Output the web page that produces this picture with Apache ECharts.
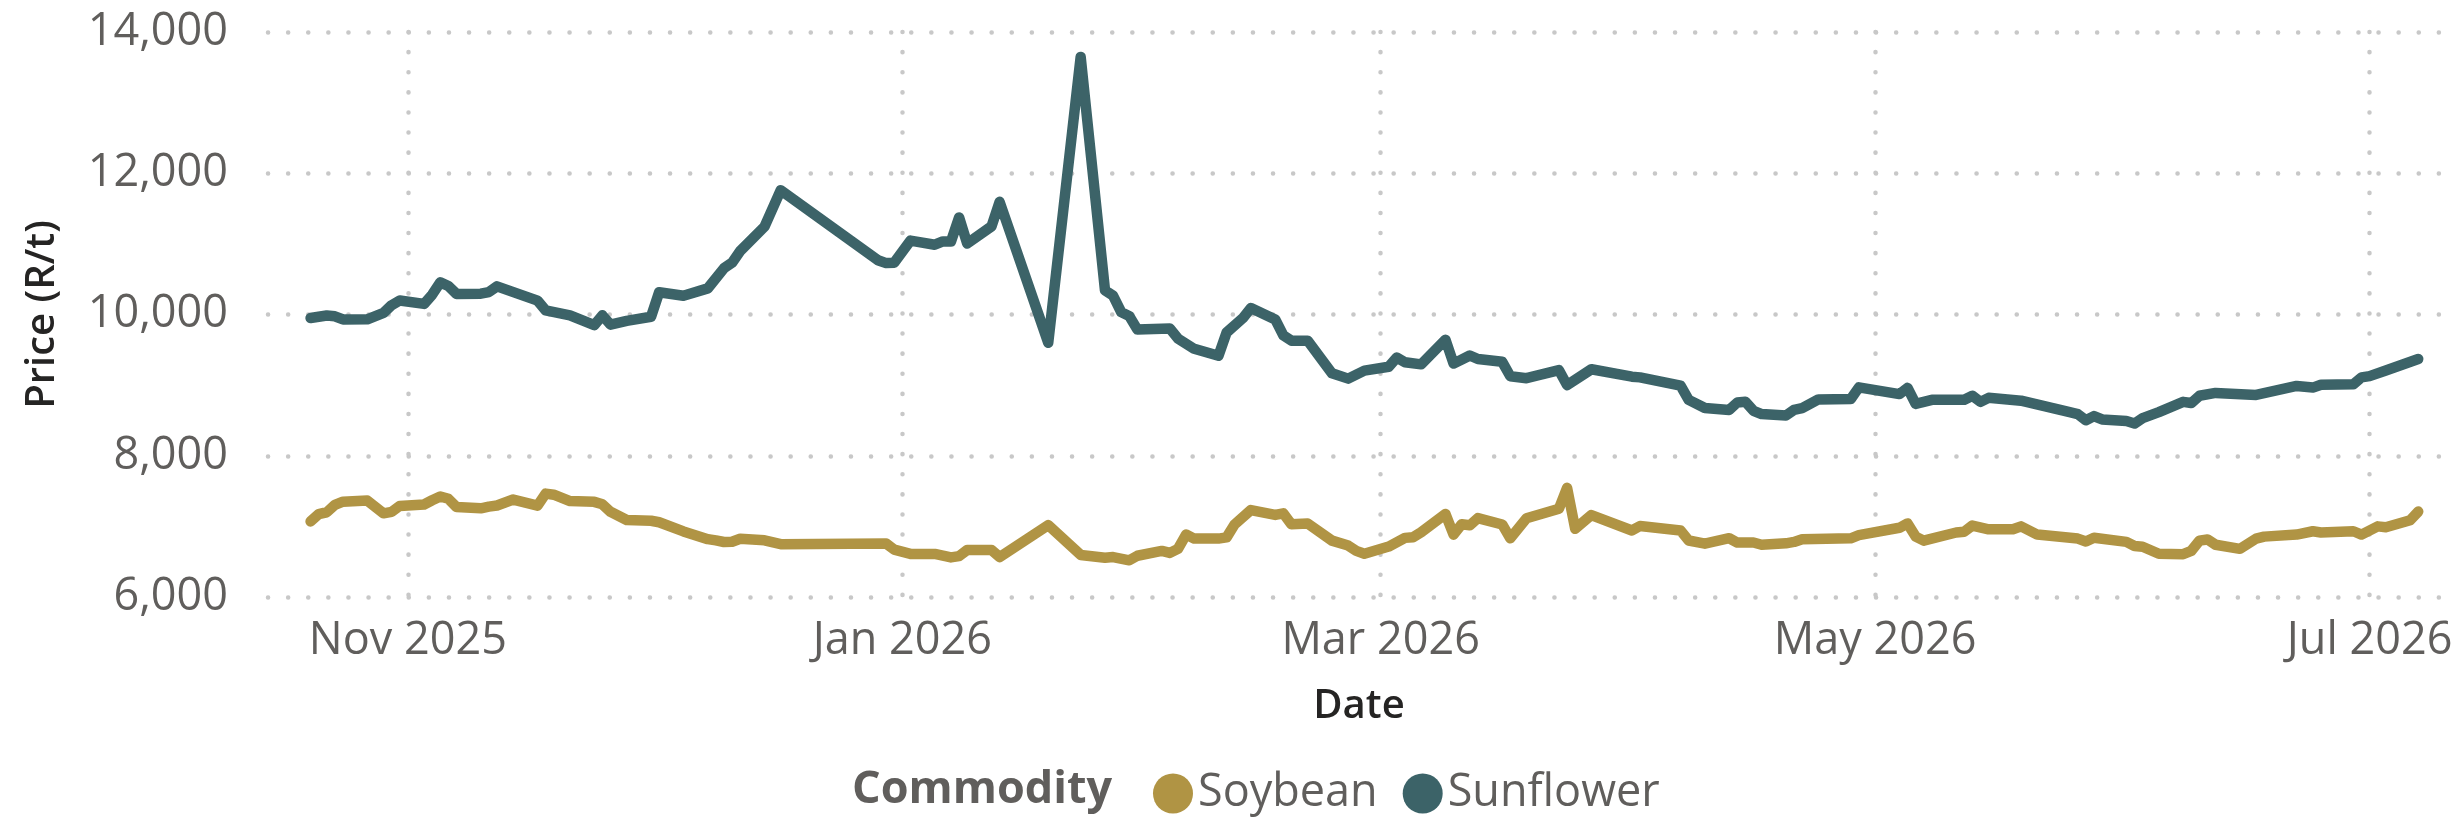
<!DOCTYPE html>
<html>
<head>
<meta charset="utf-8">
<title>Soybean and sunflower prices</title>
<script src="https://cdn.jsdelivr.net/npm/echarts@6/dist/echarts.min.js"></script>
<style>
  html, body { margin: 0; padding: 0; background: #fff; }
  #chart { width: 2459px; height: 822px; }
</style>
</head>
<body>
<div id="chart"></div>
<script>
(function () {
  'use strict';

  const seriesNames = ['Soybean', 'Sunflower'];
  const seriesColors = ['#B09444', '#3C6368'];

  const soyDates = [
    '2025-10-20', '2025-10-21', '2025-10-22', '2025-10-23', '2025-10-24', '2025-10-27', '2025-10-29', '2025-10-30', '2025-10-31',
    '2025-11-03', '2025-11-04', '2025-11-05', '2025-11-06', '2025-11-07', '2025-11-10', '2025-11-11', '2025-11-12', '2025-11-14',
    '2025-11-17', '2025-11-18', '2025-11-19', '2025-11-21', '2025-11-24', '2025-11-25', '2025-11-26', '2025-11-28',
    '2025-12-01', '2025-12-02', '2025-12-05', '2025-12-08', '2025-12-09', '2025-12-10', '2025-12-11', '2025-12-12', '2025-12-15',
    '2025-12-17', '2025-12-30', '2025-12-31',
    '2026-01-02', '2026-01-05', '2026-01-07', '2026-01-08', '2026-01-09', '2026-01-12', '2026-01-13', '2026-01-19', '2026-01-23',
    '2026-01-26', '2026-01-27', '2026-01-29', '2026-01-30',
    '2026-02-02', '2026-02-03', '2026-02-04', '2026-02-05', '2026-02-06', '2026-02-09', '2026-02-10', '2026-02-11', '2026-02-13',
    '2026-02-16', '2026-02-17', '2026-02-18', '2026-02-20', '2026-02-23', '2026-02-25', '2026-02-26', '2026-02-27',
    '2026-03-02', '2026-03-04', '2026-03-05', '2026-03-06', '2026-03-09', '2026-03-10', '2026-03-11', '2026-03-12', '2026-03-13',
    '2026-03-16', '2026-03-17', '2026-03-19', '2026-03-23', '2026-03-24', '2026-03-25', '2026-03-27',
    '2026-04-01', '2026-04-02', '2026-04-07', '2026-04-08', '2026-04-10', '2026-04-13', '2026-04-14', '2026-04-16', '2026-04-17',
    '2026-04-20', '2026-04-21', '2026-04-22', '2026-04-28', '2026-04-29',
    '2026-05-04', '2026-05-05', '2026-05-06', '2026-05-07', '2026-05-11', '2026-05-12', '2026-05-13', '2026-05-15', '2026-05-18',
    '2026-05-19', '2026-05-21', '2026-05-26', '2026-05-27', '2026-05-28',
    '2026-06-01', '2026-06-02', '2026-06-03', '2026-06-05', '2026-06-08', '2026-06-09', '2026-06-10', '2026-06-11', '2026-06-12',
    '2026-06-15', '2026-06-17', '2026-06-18', '2026-06-22', '2026-06-24', '2026-06-25', '2026-06-29', '2026-06-30',
    '2026-07-02', '2026-07-03', '2026-07-06', '2026-07-07'
  ];
  const soyPrices = [
    7070, 7175, 7200, 7305, 7350, 7366, 7185, 7205, 7290,
    7310, 7370, 7424, 7390, 7274, 7256, 7280, 7296, 7380,
    7294, 7464, 7448, 7358, 7347, 7312, 7207, 7090,
    7080, 7058, 6928, 6819, 6801, 6779, 6782, 6824, 6802,
    6748, 6757, 6670,
    6610, 6610, 6561, 6578, 6665, 6665, 6566, 7017, 6595,
    6555, 6566, 6520, 6584,
    6653, 6624, 6682, 6884, 6827, 6827, 6844, 7029, 7231,
    7162, 7185, 7029, 7040, 6798, 6728, 6653, 6613,
    6714, 6837, 6847, 6917, 7175, 6883, 7030, 7015, 7117,
    7027, 6831, 7115, 7250, 7546, 6965, 7160,
    6942, 7005, 6942, 6800, 6755, 6832, 6771, 6771, 6740,
    6760, 6780, 6818, 6831, 6875,
    6980, 7042, 6855, 6798, 6913, 6925, 7012, 6959, 6959,
    7000, 6884, 6827, 6786, 6838,
    6780, 6722, 6711, 6613, 6607, 6653, 6798, 6815, 6740,
    6682, 6827, 6855, 6884, 6931, 6913, 6931, 6884,
    7000, 6988, 7087, 7210
  ];

  const sunDates = [
    '2025-10-20', '2025-10-22', '2025-10-23', '2025-10-24', '2025-10-27', '2025-10-29', '2025-10-30', '2025-10-31',
    '2025-11-03', '2025-11-04', '2025-11-05', '2025-11-06', '2025-11-07', '2025-11-10', '2025-11-11', '2025-11-12',
    '2025-11-17', '2025-11-18', '2025-11-21', '2025-11-24', '2025-11-25', '2025-11-26', '2025-11-28',
    '2025-12-01', '2025-12-02', '2025-12-05', '2025-12-08', '2025-12-10', '2025-12-11', '2025-12-12', '2025-12-15',
    '2025-12-17', '2025-12-29', '2025-12-30', '2025-12-31',
    '2026-01-02', '2026-01-05', '2026-01-06', '2026-01-07', '2026-01-08', '2026-01-09', '2026-01-12', '2026-01-13',
    '2026-01-19', '2026-01-23', '2026-01-26', '2026-01-27', '2026-01-28', '2026-01-29', '2026-01-30',
    '2026-02-03', '2026-02-04', '2026-02-06', '2026-02-09', '2026-02-10', '2026-02-12', '2026-02-13', '2026-02-16',
    '2026-02-17', '2026-02-18', '2026-02-20', '2026-02-23', '2026-02-25', '2026-02-27',
    '2026-03-02', '2026-03-03', '2026-03-04', '2026-03-06', '2026-03-09', '2026-03-10', '2026-03-12', '2026-03-13',
    '2026-03-16', '2026-03-17', '2026-03-19', '2026-03-23', '2026-03-24', '2026-03-27',
    '2026-04-01', '2026-04-02', '2026-04-07', '2026-04-08', '2026-04-10', '2026-04-13', '2026-04-14', '2026-04-15',
    '2026-04-16', '2026-04-17', '2026-04-20', '2026-04-21', '2026-04-22', '2026-04-24', '2026-04-28', '2026-04-29',
    '2026-05-04', '2026-05-05', '2026-05-06', '2026-05-08', '2026-05-12', '2026-05-13', '2026-05-14', '2026-05-15',
    '2026-05-19', '2026-05-25', '2026-05-26', '2026-05-27', '2026-05-28', '2026-05-29',
    '2026-06-01', '2026-06-02', '2026-06-03', '2026-06-05', '2026-06-08', '2026-06-09', '2026-06-10', '2026-06-12',
    '2026-06-17', '2026-06-22', '2026-06-24', '2026-06-25', '2026-06-29', '2026-06-30',
    '2026-07-01', '2026-07-03', '2026-07-07'
  ];
  const sunPrices = [
    9950, 9985, 9975, 9930, 9932, 10024, 10132, 10198,
    10150, 10280, 10455, 10403, 10292, 10295, 10318, 10398,
    10196, 10058, 9988, 9850, 9988, 9857, 9910,
    9968, 10315, 10266, 10370, 10656, 10733, 10900, 11244,
    11760, 10769, 10728, 10734,
    11046, 10988, 11034, 11034, 11375, 11005, 11248, 11595,
    9601, 13647, 10341, 10266, 10034, 9977, 9786,
    9803, 9659, 9514, 9416, 9745, 9948, 10092, 9930,
    9705, 9630, 9630, 9167, 9092, 9205,
    9260, 9390, 9324, 9294, 9644, 9305, 9420, 9370,
    9330, 9125, 9098, 9212, 9000, 9225,
    9120, 9110, 8992, 8792, 8676, 8649, 8754, 8765,
    8637, 8591, 8570, 8649, 8675, 8797, 8802, 8968,
    8873, 8961, 8734, 8792, 8792, 8849, 8763, 8820,
    8780, 8618, 8589, 8503, 8561, 8514,
    8491, 8456, 8532, 8618, 8763, 8746, 8849, 8890,
    8861, 8988, 8965, 9006, 9011, 9110,
    9127, 9208, 9370
  ];

  const yTicks = [6000, 8000, 10000, 12000, 14000];
  const xTickDates = ['2025-11-01', '2026-01-01', '2026-03-01', '2026-05-01', '2026-07-01'];
  const xTickLabels = ['Nov 2025', 'Jan 2026', 'Mar 2026', 'May 2026', 'Jul 2026'];

  const font = '"Open Sans", "Noto Sans", sans-serif';
  const labelColor = '#605E5C';
  const titleColor = '#252423';
  const gridDots = { color: '#C8C8C8', width: 4.5, type: [0.1, 20], cap: 'round' };

  // dates as local midnight timestamps, drawn on a numeric axis
  function toTime(s) {
    const p = s.split('-').map(Number);
    return new Date(p[0], p[1] - 1, p[2]).getTime();
  }

  const tickTimes = xTickDates.map(toTime);

  const chart = echarts.init(document.getElementById('chart'), null, { renderer: 'canvas' });

  chart.setOption({
    animation: false,
    textStyle: { fontFamily: font },
    grid: { left: 268, right: 9, top: 32, bottom: 225 },
    graphic: [{
      type: 'text',
      left: 852,
      top: 768,
      style: { text: 'Commodity', font: 'bold 45px ' + font, fill: labelColor }
    }],
    legend: {
      left: 1148,
      top: 766,
      icon: 'circle',
      itemWidth: 40,
      itemHeight: 40,
      itemGap: 25,
      textStyle: { fontSize: 45, color: labelColor, fontFamily: font },
      data: seriesNames
    },
    xAxis: {
      type: 'value',
      min: new Date(2025, 9, 14, 18).getTime(),
      max: new Date(2026, 6, 10, 22).getTime(),
      name: 'Date',
      nameLocation: 'middle',
      nameGap: 90,
      nameTextStyle: { fontSize: 40, fontWeight: 600, color: titleColor, fontFamily: font },
      axisLine: { show: false },
      axisTick: { show: false, customValues: tickTimes },
      axisLabel: {
        customValues: tickTimes,
        fontSize: 45,
        color: labelColor,
        margin: 22,
        formatter: function (v) {
          const i = tickTimes.indexOf(v);
          return i >= 0 ? xTickLabels[i] : '';
        }
      },
      splitLine: { show: true, lineStyle: gridDots }
    },
    yAxis: {
      type: 'value',
      min: yTicks[0],
      max: yTicks[yTicks.length - 1],
      interval: 2000,
      name: 'Price (R/t)',
      nameLocation: 'middle',
      nameGap: 205,
      nameTextStyle: { fontSize: 40, fontWeight: 600, color: titleColor, fontFamily: font },
      axisLine: { show: false },
      axisTick: { show: false },
      axisLabel: {
        fontSize: 45,
        color: labelColor,
        margin: 40,
        formatter: v => v.toLocaleString('en-US')
      },
      splitLine: { show: true, lineStyle: gridDots }
    },
    series: [
      {
        name: seriesNames[0],
        type: 'line',
        showSymbol: false,
        color: seriesColors[0],
        lineStyle: { width: 10.5, cap: 'round', join: 'round' },
        data: soyDates.map((d, i) => [toTime(d), soyPrices[i]])
      },
      {
        name: seriesNames[1],
        type: 'line',
        showSymbol: false,
        color: seriesColors[1],
        lineStyle: { width: 10.5, cap: 'round', join: 'round' },
        data: sunDates.map((d, i) => [toTime(d), sunPrices[i]])
      }
    ]
  });

  window.addEventListener('resize', () => chart.resize());
})();
</script>
</body>
</html>
